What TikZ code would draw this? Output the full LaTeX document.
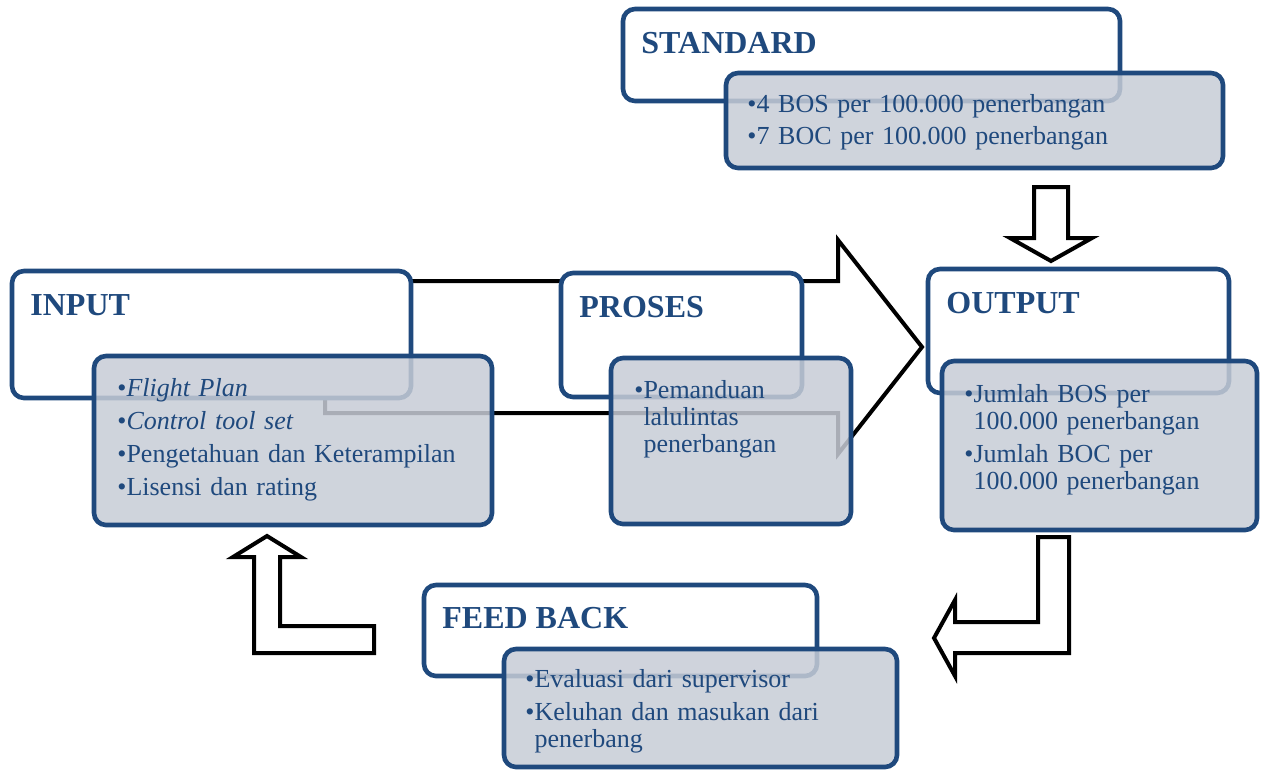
\documentclass[tikz,border=0pt]{standalone}
\usepackage{fontspec}
\setmainfont{Liberation Serif}
\usepackage{tikz}
\definecolor{boxblue}{RGB}{31,73,125}
\definecolor{boxgrey}{RGB}{199,204,214}
\newcommand{\bul}{\textbullet{}}
\newcommand{\bulgap}{\phantom{\textbullet}}

\begin{document}
\begin{tikzpicture}[x=0.5pt,y=-0.5pt,
    title/.style={draw=boxblue,line width=2.3pt,fill=white,rounded corners=6pt,anchor=north west,inner sep=0pt,outer sep=0pt},
    list/.style={draw=boxblue,line width=2.3pt,fill=boxgrey,fill opacity=0.85,rounded corners=6pt,anchor=north west,inner sep=0pt,outer sep=0pt},
    head/.style={anchor=base west,inner sep=0pt,text=boxblue,font=\fontsize{16}{19}\selectfont\bfseries},
    items/.style={anchor=base west,inner sep=0pt,align=left,text=boxblue,font=\fontsize{13}{13.5}\selectfont},
    blockarrow/.style={draw=black,line width=2pt,fill=white,miter limit=10}]
\useasboundingbox (0,0) rectangle (1263,771);

% big arrow behind input and proses
\draw[blockarrow] (325,281) -- (838,281) -- (838,240) -- (922,347) -- (838,454) -- (838,413) -- (325,413) -- cycle;

% input
\node[title,minimum width=199.5pt,minimum height=63.5pt] (input) at (12,271) {};
\node[head] (inputhead) at ([shift={(18,44)}]input.north west) {INPUT};
\node[list,minimum width=199pt,minimum height=84.5pt] (inputbox) at (94,356) {};
\node[items,text width=190pt] (inputlist) at ([shift={(23,40)}]inputbox.north west)
  {\bul\textit{Flight Plan}\\[3pt]\bul\textit{Control tool set}\\[3pt]\bul Pengetahuan dan Keterampilan\\[3pt]\bul Lisensi dan rating};

% proses
\node[title,minimum width=120.5pt,minimum height=62pt] (proses) at (561,273) {};
\node[head] (proseshead) at ([shift={(18,44)}]proses.north west) {PROSES};
\node[list,minimum width=120pt,minimum height=83pt] (prosesbox) at (611,358) {};
\node[items,text width=110pt] (proseslist) at ([shift={(23,40)}]prosesbox.north west)
  {\bul Pemanduan\\\bulgap lalulintas\\\bulgap penerbangan};

% output
\node[title,minimum width=150.5pt,minimum height=62pt] (output) at (928,269) {};
\node[head] (outputhead) at ([shift={(18,44)}]output.north west) {OUTPUT};
\node[list,minimum width=157.5pt,minimum height=84.5pt] (outputbox) at (942,361) {};
\node[items,text width=145pt] (outputlist) at ([shift={(22,41)}]outputbox.north west)
  {\bul Jumlah BOS per\\\bulgap 100.000 penerbangan\\[3pt]\bul Jumlah BOC per\\\bulgap 100.000 penerbangan};

% standard
\node[title,minimum width=248.5pt,minimum height=46pt] (standard) at (623,9) {};
\node[head] (standardhead) at ([shift={(18,44)}]standard.north west) {STANDARD};
\node[list,minimum width=248.5pt,minimum height=47.5pt] (standardbox) at (726,73) {};
\node[items,text width=235pt] (standardlist) at ([shift={(21,39)}]standardbox.north west)
  {\bul 4 BOS per 100.000 penerbangan\\[3pt]\bul 7 BOC per 100.000 penerbangan};

% feed back
\node[title,minimum width=196.5pt,minimum height=45.5pt] (feedback) at (424,585) {};
\node[head] (feedbackhead) at ([shift={(18,43)}]feedback.north west) {FEED BACK};
\node[list,minimum width=196.5pt,minimum height=59pt] (feedbackbox) at (504,649) {};
\node[items,text width=185pt] (feedbacklist) at ([shift={(21,38)}]feedbackbox.north west)
  {\bul Evaluasi dari supervisor\\[3pt]\bul Keluhan dan masukan dari\\\bulgap penerbang};

% standard to output
\draw[blockarrow] (1034,187) -- (1068,187) -- (1068,238) -- (1092,238) -- (1051,261) -- (1010,238) -- (1034,238) -- cycle;
% output to feed back
\draw[blockarrow] (1038,537) -- (1069,537) -- (1069,653) -- (955,653) -- (955,676) -- (934,638) -- (955,600) -- (955,622) -- (1038,622) -- cycle;
% feed back to input
\draw[blockarrow] (267,536) -- (301,557) -- (280,557) -- (280,626) -- (374,626) -- (374,653) -- (254,653) -- (254,557) -- (233,557) -- cycle;
\end{tikzpicture}
\end{document}
